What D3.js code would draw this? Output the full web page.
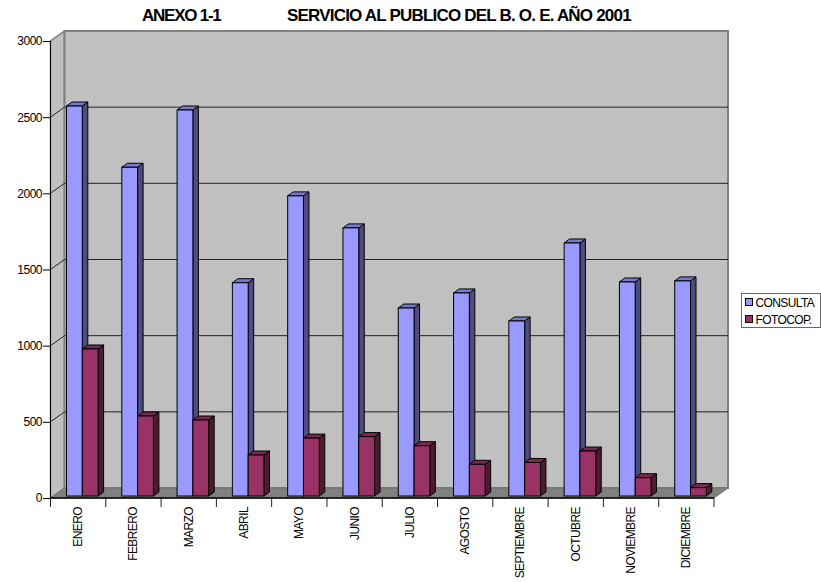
<!DOCTYPE html>
<html><head><meta charset="utf-8">
<script src="https://cdn.jsdelivr.net/npm/d3@7"></script>
<style>html,body{margin:0;padding:0;background:#fff}svg{display:block}text{font-family:"Liberation Sans",Arial,sans-serif;fill:#000}</style>
</head><body><svg id="c" width="821" height="582"></svg>
<script>
const categories=["ENERO","FEBRERO","MARZO","ABRIL","MAYO","JUNIO","JULIO","AGOSTO","SEPTIEMBRE","OCTUBRE","NOVIEMBRE","DICIEMBRE"];
const consulta=[2560,2158,2534,1400,1970,1760,1234,1333,1149,1661,1405,1412];
const fotocop=[965,525,499,269,380,390,330,208,220,295,120,55];
const seriesNames=["CONSULTA","FOTOCOP."];
const yTicks=[0,500,1000,1500,2000,2500,3000];
const seriesColors=[["#9999ff","#7a7acc","#4d4d80"],["#993366","#7a2952","#4d1a33"]];

const svg=d3.select("#c");
const x=d3.scaleBand().domain(categories).range([50.5,714]);
const y=d3.scaleLinear().domain([0,3000]).range([498,41]);
const DX=14,DY=-10,bdx=5.5,bdy=-4,barW=15.8,barOff=16,barDrop=2;
const stroke="#000";

// walls
const x0=50.5,x1=714,yB=y(0),yT=y(3000);
svg.append("polygon").attr("points",[[x0,yB],[x0,yT],[x0+DX,yT+DY],[x0+DX,yB+DY]].join(" ")).attr("fill","#c0c0c0").attr("stroke","#808080").attr("stroke-width",1.5);
svg.append("rect").attr("x",x0+DX).attr("y",yT+DY).attr("width",x1-x0).attr("height",yB-yT).attr("fill","#c0c0c0").attr("stroke","#808080").attr("stroke-width",2);
svg.append("polygon").attr("points",[[x0,yB],[x0+DX,yB+DY],[x1+DX,yB+DY],[x1,yB]].join(" ")).attr("fill","#808080").attr("stroke","#707070").attr("stroke-width",1);

// gridlines
yTicks.filter(v=>v>0&&v<3000).forEach(v=>{
  svg.append("path").attr("d",`M${x0},${y(v)}L${x0+DX},${y(v)+DY}H${x1+DX}`).attr("fill","none").attr("stroke","#222").attr("stroke-width",1);
});

// bars
function bar(g,bx,val,cols){
  const top=y(val)-barDrop,bot=yB-barDrop;
  g.append("polygon").attr("points",[[bx+barW,bot],[bx+barW,top],[bx+barW+bdx,top+bdy],[bx+barW+bdx,bot+bdy]].join(" ")).attr("fill",cols[2]).attr("stroke",stroke);
  g.append("polygon").attr("points",[[bx,top],[bx+bdx,top+bdy],[bx+barW+bdx,top+bdy],[bx+barW,top]].join(" ")).attr("fill",cols[1]).attr("stroke",stroke);
  g.append("rect").attr("x",bx).attr("y",top).attr("width",barW).attr("height",bot-top).attr("fill",cols[0]).attr("stroke",stroke);
}
const gBars=svg.append("g");
categories.forEach((c,i)=>{
  bar(gBars,x(c)+barOff,consulta[i],seriesColors[0]);
  bar(gBars,x(c)+barOff+barW,fotocop[i],seriesColors[1]);
});

// axes
const ay=svg.append("g").attr("transform",`translate(${x0},0)`).call(d3.axisLeft(y).tickValues(yTicks).tickSize(7.5).tickPadding(1).tickFormat(d3.format("d")));
ay.selectAll("text").style("font-size","12px").style("letter-spacing","-0.5px");
ay.select(".domain").attr("stroke","#000").attr("d",`M0,${yT}V${yB}`);
const tickVals=categories.map(c=>x(c)).concat([x1]);
svg.append("path").attr("d",`M${x0},${yB}H${x1}`).attr("stroke","#000").attr("stroke-width",1.5);
svg.selectAll(".xt").data(tickVals).enter().append("line").attr("x1",d=>d).attr("x2",d=>d).attr("y1",yB).attr("y2",507).attr("stroke","#222");
svg.selectAll(".xl").data(categories).enter().append("text")
  .attr("transform",c=>`translate(${x(c)+x.bandwidth()/2+4},507) rotate(-90)`)
  .attr("text-anchor","end").style("font-size","12px").style("letter-spacing","-0.6px").text(c=>c);

// title
svg.append("text").attr("x",142).attr("y",21).style("font-size","17px").style("font-weight","bold").style("letter-spacing","-1.25px").text("ANEXO 1-1");
svg.append("text").attr("x",287).attr("y",21).style("font-size","17px").style("font-weight","bold").style("letter-spacing","-0.8px").text("SERVICIO AL PUBLICO DEL B. O. E. AÑO 2001");

// legend
svg.append("rect").attr("x",741.5).attr("y",293.5).attr("width",79).attr("height",34).attr("fill","#fff").attr("stroke","#666");
seriesNames.forEach((n,i)=>{
  const ly=298.5+i*17;
  svg.append("rect").attr("x",745.5).attr("y",ly).attr("width",7).attr("height",7).attr("fill",seriesColors[i][0]).attr("stroke","#000");
  svg.append("text").attr("x",755.5).attr("y",ly+8).style("font-size","12px").style("letter-spacing","-0.6px").text(n);
});
</script></body></html>
